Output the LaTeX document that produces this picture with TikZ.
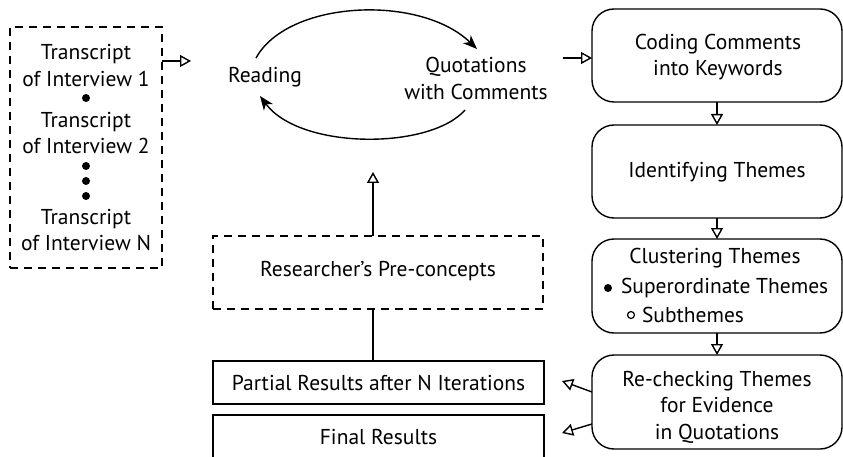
\documentclass[tikz,border=0pt]{standalone}
\usepackage{fontspec}
\setmainfont{PT Sans}
\usetikzlibrary{arrows.meta}
\begin{document}
\begin{tikzpicture}[x=1pt,y=-1pt,line width=1.4pt,
  every node/.style={font=\fontsize{21.5}{26.5}\selectfont, inner sep=0pt, outer sep=0pt},
  txt/.style={align=center},
  dashbox/.style={draw, dash pattern=on 8pt off 6pt},
  plainbox/.style={draw},
  roundbox/.style={draw, rounded corners=22pt, minimum width=250pt},
  dotmark/.style={circle, fill, minimum size=8pt},
  opendot/.style={circle, draw, line width=1.2pt, minimum size=7pt},
  openarrow/.style={-{Triangle[open,length=11pt,width=12pt]}},
  looparrow/.style={-{Stealth[length=14pt,width=11pt,inset=4pt]}}]
\useasboundingbox (0,0) rectangle (843,457);

% left dashed box with transcripts
\node[dashbox, minimum width=152pt, minimum height=241pt] (lbox) at (86,147.5) {};
\node[txt] (t1) at (86,65.5) {Transcript\\of Interview 1};
\node[dotmark] (d1) at (86,98) {};
\node[txt] (t2) at (86,133) {Transcript\\of Interview 2};
\node[dotmark] (d2) at (86,166) {};
\node[dotmark] (d3) at (86,181) {};
\node[dotmark] (d4) at (86,196) {};
\node[txt] (t3) at (86,230) {Transcript\\of Interview N};

% reading loop
\node (reading) at (265,77) {Reading};
\node[txt] (quot) at (476,78.5) {Quotations\\with Comments};
\coordinate (la) at (191,61);
\draw[openarrow] (la -| lbox.east) -- (la);
\coordinate (ta) at (256,58);
\coordinate (tb) at (477,49);
\coordinate (ba) at (465,110);
\coordinate (bb) at (260,96);
\draw[looparrow] (ta) .. controls (288,0) and (420,-6) .. (tb);
\draw[looparrow] (ba) .. controls (430,150) and (300,150) .. (bb);

% right column
\node[roundbox, minimum height=93pt] (coding) at (717,55.5) {};
\node[txt] (codingt) at (718,57) {Coding Comments\\into Keywords};
\node[roundbox, minimum height=93pt] (ident) at (717,171.5) {};
\node (identt) at (717,172) {Identifying Themes};
\node[roundbox, minimum height=94pt] (clust) at (717,286) {};
\node (clustt) at (715,258) {Clustering Themes};
\node[dotmark] (cb1) at (608,288) {};
\node[anchor=west] (clust1) at (621,288) {Superordinate Themes};
\node[opendot] (cb2) at (631,315) {};
\node[anchor=west] (clust2) at (642,315) {Subthemes};
\node[roundbox, minimum height=94pt] (recheck) at (717,402) {};
\node[txt] (recheckt) at (717,407) {Re-checking Themes\\for Evidence\\in Quotations};

\coordinate (qa) at (563,58);
\draw[openarrow] (qa) -- (qa -| coding.west);
\draw[openarrow] (coding.south) -- (ident.north);
\draw[openarrow] (ident.south) -- (clust.north);
\draw[openarrow] (clust.south) -- (recheck.north);

% left-bottom boxes
\node[dashbox, minimum width=330pt, minimum height=73pt] (pre) at (378,272.5) {};
\node (pret) at (378,271) {Researcher’s Pre-concepts};
\node[plainbox, minimum width=331pt, minimum height=43pt] (partial) at (378.5,382.5) {Partial Results after N Iterations};
\node[plainbox, minimum width=331pt, minimum height=44pt] (final) at (378.5,437) {Final Results};

\coordinate (lt) at (373,172);
\draw[openarrow] (pre.north -| lt) -- (lt);
\draw (partial.north -| lt) -- (pre.south -| lt);

\coordinate (r1) at (562,381);
\coordinate (r2) at (562,433);
\draw[openarrow] ([yshift=10pt]recheck.west) -- (r1);
\draw[openarrow] ([yshift=-22pt]recheck.west) -- (r2);
\end{tikzpicture}
\end{document}
